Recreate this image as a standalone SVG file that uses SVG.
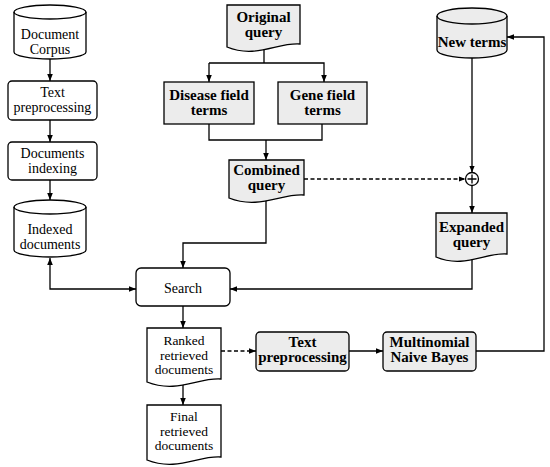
<svg xmlns="http://www.w3.org/2000/svg" width="550" height="467" viewBox="0 0 550 467">
<defs>
<marker id="ah" viewBox="0 0 10 10" refX="10" refY="5" markerWidth="7" markerHeight="7" orient="auto-start-reverse" markerUnits="userSpaceOnUse">
<path d="M0,1 L10,5 L0,9 z" fill="#000"/>
</marker>
<style>
.n{fill:#fff;stroke:#000;stroke-width:1.3}
.g{fill:#ececec;stroke:#000;stroke-width:1.3}
.t{font-family:"Liberation Serif","DejaVu Serif",serif;font-size:14px;text-anchor:middle;fill:#000}
.s{font-size:13.5px}
.b{font-family:"Liberation Serif","DejaVu Serif",serif;font-size:15px;font-weight:bold;text-anchor:middle;fill:#000}
.c{fill:none;stroke:#000;stroke-width:1.3}
.a{marker-end:url(#ah)}
.d{stroke-dasharray:4,2.5}
</style>
</defs>
<rect width="550" height="467" fill="#fff"/>

<g id="connectors">
<path class="c a" d="M50,59 V81"/>
<path class="c a" d="M50,120 V142"/>
<path class="c a" d="M50,180 V200"/>
<path class="c" d="M50,258 V289 H136" style="marker-start:url(#ah);marker-end:url(#ah)"/>
<path class="c" d="M264,49 V63"/>
<path class="c a" d="M209,63 H324 V82"/>
<path class="c a" d="M209,63 V82"/>
<path class="c" d="M209,124 V140 H322 V124"/>
<path class="c a" d="M266,140 V160"/>
<path class="c a d" d="M304,179 H465.5"/>
<path class="c a" d="M472,58 V172.5"/>
<path class="c a" d="M472,185.5 V213"/>
<path class="c a" d="M472,259 V289 H230"/>
<path class="c a" d="M266,199 V243 H183 V268"/>
<path class="c a" d="M183,306 V328"/>
<path class="c a" d="M183,384 V405"/>
<path class="c a d" d="M221,351 H256"/>
<path class="c a" d="M349,351 H383"/>
<path class="c a" d="M476,351 H544 V37 H507"/>
</g>

<g id="document-corpus">
<path class="n" d="M14,12 A36,7 0 0 1 86,12 V52 A36,7 0 0 1 14,52 Z"/>
<path class="c" d="M14,12 A36,7 0 0 0 86,12"/>
<text class="t" x="50" y="39">Document</text>
<text class="t" x="50" y="54">Corpus</text>
</g>

<g id="text-preprocessing-1">
<rect class="n" x="8" y="81" width="89" height="39" rx="4"/>
<text class="t" x="52.5" y="97">Text</text>
<text class="t" x="52.5" y="112">preprocessing</text>
</g>

<g id="documents-indexing">
<rect class="n" x="8" y="142" width="89" height="38" rx="4"/>
<text class="t" x="52.5" y="158">Documents</text>
<text class="t" x="52.5" y="173">indexing</text>
</g>

<g id="indexed-documents">
<path class="n" d="M14,207 A36,7 0 0 1 86,207 V250 A36,7 0 0 1 14,250 Z"/>
<path class="c" d="M14,207 A36,7 0 0 0 86,207"/>
<text class="t" x="50" y="234">Indexed</text>
<text class="t" x="50" y="249">documents</text>
</g>

<g id="original-query">
<path class="g" d="M227,5 H300 V44 C278,42 256,59 227,47 Z"/>
<text class="b" x="263.5" y="22">Original</text>
<text class="b" x="263.5" y="37">query</text>
</g>

<g id="disease-field-terms">
<rect class="g" x="164" y="82" width="90" height="42"/>
<text class="b" x="209" y="100">Disease field</text>
<text class="b" x="209" y="115">terms</text>
</g>

<g id="gene-field-terms">
<rect class="g" x="278" y="82" width="89" height="42"/>
<text class="b" x="322.5" y="100">Gene field</text>
<text class="b" x="322.5" y="115">terms</text>
</g>

<g id="combined-query">
<path class="g" d="M229,160 H304 V195 C282,193 259,210 229,198 Z"/>
<text class="b" x="266.5" y="175">Combined</text>
<text class="b" x="266.5" y="190">query</text>
</g>

<g id="new-terms">
<path class="g" d="M437,16 A35,8 0 0 1 507,16 V50 A35,8 0 0 1 437,50 Z"/>
<path class="c" d="M437,16 A35,8 0 0 0 507,16"/>
<text class="b" x="472" y="47">New terms</text>
</g>

<g id="plus">
<circle class="n" cx="472" cy="179" r="6.5"/>
<path class="c" d="M467.5,179 H476.5 M472,174.5 V183.5"/>
</g>

<g id="expanded-query">
<path class="g" d="M436,213 H507 V254 C486,252 464,269 436,257 Z"/>
<text class="b" x="471.5" y="232">Expanded</text>
<text class="b" x="471.5" y="247">query</text>
</g>

<g id="search">
<rect class="n" x="136" y="268" width="94" height="38" rx="5"/>
<text class="t" x="183" y="293">Search</text>
</g>

<g id="ranked-retrieved-documents">
<path class="n" d="M147,328 H221 V379 C199,377 177,394 147,382 Z"/>
<text class="t s" x="184" y="345">Ranked</text>
<text class="t s" x="184" y="359.5">retrieved</text>
<text class="t s" x="184" y="374">documents</text>
</g>

<g id="final-retrieved-documents">
<path class="n" d="M147,405 H221 V457 C199,455 177,472 147,460 Z"/>
<text class="t s" x="184" y="421">Final</text>
<text class="t s" x="184" y="435.5">retrieved</text>
<text class="t s" x="184" y="450">documents</text>
</g>

<g id="text-preprocessing-2">
<rect class="g" x="256" y="332" width="93" height="39" rx="4"/>
<text class="b" x="302.5" y="347">Text</text>
<text class="b" x="302.5" y="362">preprocessing</text>
</g>

<g id="multinomial-naive-bayes">
<rect class="g" x="383" y="332" width="93" height="39" rx="4"/>
<text class="b" x="429.5" y="347">Multinomial</text>
<text class="b" x="429.5" y="362">Naive Bayes</text>
</g>
</svg>
